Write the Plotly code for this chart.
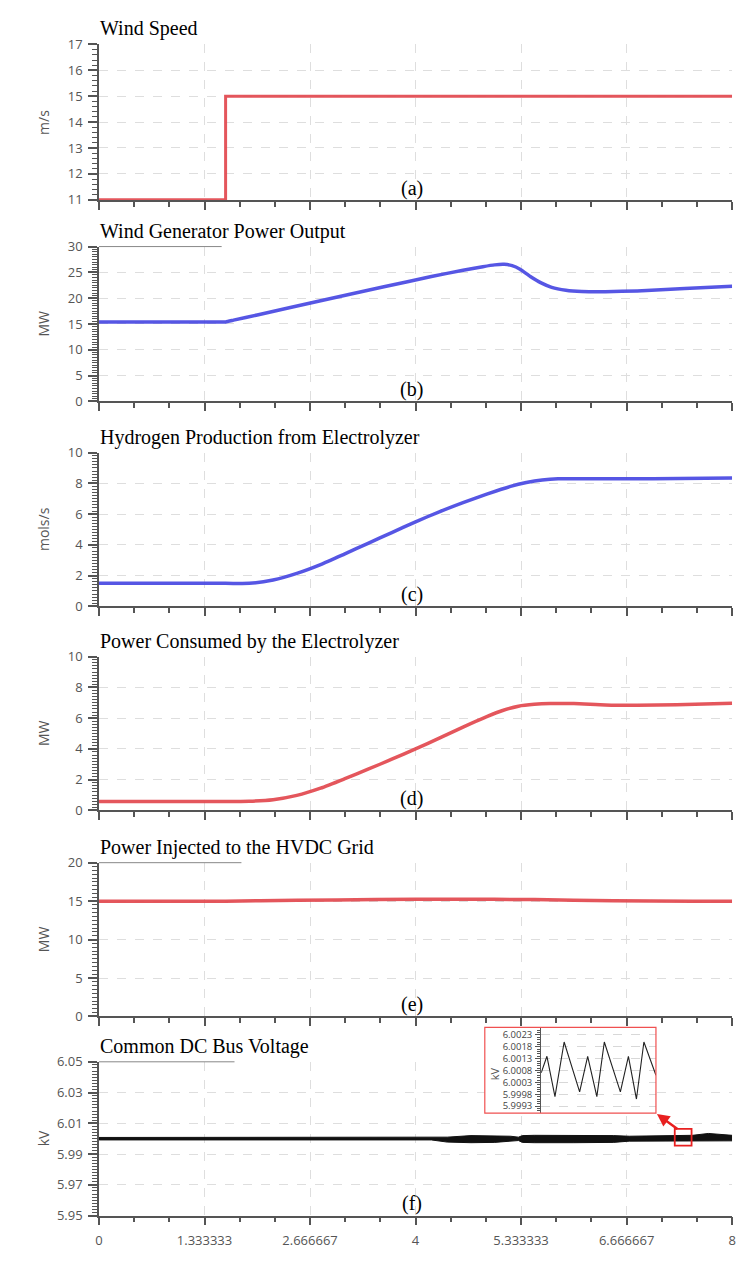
import plotly.graph_objects as go

# ---------------- data ----------------
t_wind = [0, 1.6, 1.6, 8]
wind_speed = [11, 11, 15, 15]

t_gen = [0, 1.2, 1.5, 1.6, 1.7, 2.0, 2.8, 3.6, 4.2, 4.6, 4.85, 5.0, 5.12, 5.22, 5.32, 5.45, 5.58, 5.72,
         5.9, 6.1, 6.4, 6.8, 7.4, 8.0]
gen_power = [15.4, 15.4, 15.4, 15.4, 15.74, 16.75, 19.5, 22.2, 24.2, 25.4, 26.1, 26.45, 26.55, 26.3, 25.6,
             24.2, 23.0, 22.1, 21.55, 21.3, 21.25, 21.4, 21.85, 22.3]

t_h2 = [0, 1.6, 1.9, 2.2, 2.5, 2.8, 3.1, 3.4, 3.7, 4.0, 4.3, 4.6, 4.9, 5.2, 5.4, 5.6, 5.8, 6.2, 7.0, 8.0]
h2_prod = [1.5, 1.5, 1.5, 1.72, 2.15, 2.72, 3.4, 4.1, 4.8, 5.5, 6.15, 6.75, 7.3, 7.8, 8.05, 8.22, 8.3,
           8.3, 8.3, 8.35]

t_elz = [0, 1.6, 1.9, 2.2, 2.5, 2.8, 3.1, 3.4, 3.7, 4.0, 4.3, 4.6, 4.9, 5.1, 5.3, 5.5, 5.7, 6.0, 6.4,
         6.8, 7.3, 8.0]
elz_power = [0.58, 0.58, 0.6, 0.7, 0.98, 1.45, 2.05, 2.68, 3.33, 4.0, 4.7, 5.42, 6.1, 6.5, 6.78, 6.9,
             6.95, 6.95, 6.86, 6.84, 6.88, 6.97]

t_hvdc = [0, 1.6, 2.5, 3.5, 4.5, 5.5, 6.5, 7.5, 8.0]
hvdc_power = [15.0, 15.0, 15.1, 15.2, 15.25, 15.2, 15.05, 15.0, 15.0]

t_dc = [0, 4.2, 4.4, 4.7, 5.0, 5.2, 5.3, 5.35, 5.5, 6.0, 6.5, 6.7, 7.0, 7.5, 7.7, 7.8, 8.0]
dc_upper = [6.0008, 6.0008, 6.0010, 6.0020, 6.0020, 6.0016, 6.0010, 6.0020, 6.0022, 6.0022, 6.0020,
            6.0016, 6.0020, 6.0022, 6.0034, 6.0030, 6.0022]
dc_lower = [5.9992, 5.9992, 5.9978, 5.9974, 5.9976, 5.9982, 5.9988, 5.9976, 5.9974, 5.9974, 5.9976,
            5.9984, 5.9984, 5.9984, 5.9986, 5.9986, 5.9986]

t_zoom = [7.300, 7.310, 7.324, 7.340, 7.367, 7.381, 7.397, 7.410, 7.438, 7.452, 7.466, 7.479, 7.500]
v_zoom = [6.0007, 6.0014, 5.9997, 6.0020, 5.9999, 6.0014, 5.9997, 6.0020, 5.9999, 6.0014, 5.9996, 6.0020, 6.0006]

x_tickvals = [0, 4 / 3, 8 / 3, 4, 16 / 3, 20 / 3, 8]
x_ticktext = ["0", "1.333333", "2.666667", "4", "5.333333", "6.666667", "8"]

titles = ["Wind Speed", "Wind Generator Power Output", "Hydrogen Production from Electrolyzer",
          "Power Consumed by the Electrolyzer", "Power Injected to the HVDC Grid", "Common DC Bus Voltage"]
letters = ["(a)", "(b)", "(c)", "(d)", "(e)", "(f)"]
units = ["m/s", "MW", "mols/s", "MW", "MW", "kV"]
zoom_ticks = [5.9993, 5.9998, 6.0003, 6.0008, 6.0013, 6.0018, 6.0023]

# ---------------- layout helpers ----------------
W, H = 748, 1265
def px(xp):
    return xp / W
def py(yp):
    return 1 - yp / H

X0, X1 = 96, 736
panels = [  # top px, bottom px, range, dtick, minor dtick, tick0
    (36, 194, [10.98, 17], 1, 0.2, 11),
    (241, 398, [0, 30], 5, 0.5, 0),
    (450, 606, [0, 10], 2, 0.2, 0),
    (657, 813, [0, 10], 2, 0.2, 0),
    (866, 1022, [0, 20], 5, 0.5, 0),
    (1068, 1224, [5.95, 6.05], 0.02, 0.002, 5.95),
]

RED = "rgba(226,72,78,0.92)"
BLUE = "rgba(72,72,226,0.92)"
AXC = "#555555"
TICKFONT = dict(family="Open Sans, Noto Sans, sans-serif", size=13, color="#555555")
SERIF = "Liberation Serif, Times New Roman, serif"

fig = go.Figure()

fig.add_trace(go.Scatter(x=t_wind, y=wind_speed, mode="lines", line=dict(color=RED, width=3),
                         xaxis="x", yaxis="y", showlegend=False))
fig.add_trace(go.Scatter(x=t_gen, y=gen_power, mode="lines",
                         line=dict(color=BLUE, width=3.5, shape="spline", smoothing=0.4),
                         xaxis="x2", yaxis="y2", showlegend=False))
fig.add_trace(go.Scatter(x=t_h2, y=h2_prod, mode="lines",
                         line=dict(color=BLUE, width=3.5, shape="spline", smoothing=0.6),
                         xaxis="x3", yaxis="y3", showlegend=False))
fig.add_trace(go.Scatter(x=t_elz, y=elz_power, mode="lines",
                         line=dict(color=RED, width=3.5, shape="spline", smoothing=0.6),
                         xaxis="x4", yaxis="y4", showlegend=False))
fig.add_trace(go.Scatter(x=t_hvdc, y=hvdc_power, mode="lines",
                         line=dict(color=RED, width=3.5, shape="spline", smoothing=0.6),
                         xaxis="x5", yaxis="y5", showlegend=False))
fig.add_trace(go.Scatter(x=t_dc, y=dc_upper, mode="lines", line=dict(color="#111111", width=1),
                         xaxis="x6", yaxis="y6", showlegend=False))
fig.add_trace(go.Scatter(x=t_dc, y=dc_lower, mode="lines", line=dict(color="#111111", width=1),
                         fill="tonexty", fillcolor="#111111",
                         xaxis="x6", yaxis="y6", showlegend=False))
# cover subplot for inset tick labels
fig.add_trace(go.Scatter(x=[None], y=[None], xaxis="x7", yaxis="y7", showlegend=False))
# inset
fig.add_trace(go.Scatter(x=t_zoom, y=v_zoom, mode="lines", line=dict(color="#222222", width=1.1),
                         xaxis="x8", yaxis="y8", showlegend=False))

layout = dict(width=W, height=H, autosize=False, margin=dict(l=0, r=0, t=0, b=0),
              paper_bgcolor="white", plot_bgcolor="white", showlegend=False)

annotations = []
shapes = []
for i, (top, bot, rng, dt, mdt, t0) in enumerate(panels):
    n = "" if i == 0 else str(i + 1)
    last = i == len(panels) - 1
    layout["xaxis" + n] = dict(
        domain=[px(X0), px(X1)], anchor="y" + n, range=[0, 8],
        showline=True, linecolor=AXC, linewidth=1.5,
        ticks="outside", ticklen=8, tickwidth=1.5, tickcolor=AXC,
        tickmode="array", tickvals=x_tickvals, ticktext=x_ticktext,
        showticklabels=last, tickfont=TICKFONT, ticklabelstandoff=4,
        showgrid=True, gridcolor="#dedede", griddash="dash", gridwidth=1,
        zeroline=False,
        minor=dict(tickmode="linear", tick0=0, dtick=4 / 9, ticks="outside", ticklen=5,
                   tickwidth=1.5, tickcolor=AXC, showgrid=False),
    )
    layout["yaxis" + n] = dict(
        domain=[py(bot), py(top)], anchor="x" + n, range=rng,
        showline=True, linecolor=AXC, linewidth=1.5,
        ticks="outside", ticklen=9, tickwidth=1.5, tickcolor=AXC,
        tickmode="linear", tick0=t0, dtick=dt, tickfont=TICKFONT,
        ticklabelstandoff=3,
        showgrid=True, gridcolor="#dedede", griddash="dash", gridwidth=1,
        zeroline=False,
        minor=dict(tickmode="linear", tick0=t0, dtick=mdt, ticks="outside", ticklen=5,
                   tickwidth=1, tickcolor=AXC, showgrid=False),
    )
    if i == 5:
        layout["yaxis" + n]["tickformat"] = ".2f"
    annotations.append(dict(text=titles[i], xref="paper", yref="paper", x=px(96), y=py(top),
                            xanchor="left", yanchor="bottom", yshift=3, showarrow=False, bgcolor="white",
                            borderpad=0, font=dict(family=SERIF, size=20, color="black")))
    annotations.append(dict(text=letters[i], xref="paper", yref="paper", x=px(412), y=py(bot - 12),
                            xanchor="center", yanchor="middle", showarrow=False,
                            font=dict(family=SERIF, size=20, color="black")))
    annotations.append(dict(text=units[i], xref="paper", yref="paper", x=px(40), y=py((top + bot) / 2),
                            xanchor="center", yanchor="middle", showarrow=False, textangle=-90,
                            font=dict(family="Open Sans, Noto Sans, sans-serif", size=14, color="#555555")))

# partial top border lines (as in reference)
for (xe, yp) in [(220, 241), (240, 866), (233, 1068)]:
    shapes.append(dict(type="line", xref="paper", yref="paper", x0=px(96), x1=px(xe), y0=py(yp), y1=py(yp),
                       line=dict(color="#888888", width=1), layer="above"))

# inset geometry
IB_L, IB_R, IB_T, IB_B = 486, 659, 1033, 1120
IA_L = 543
layout["xaxis7"] = dict(domain=[px(IB_L), px(IA_L)], anchor="y7", range=[0, 1], visible=False)
layout["yaxis7"] = dict(domain=[py(IB_B), py(IB_T)], anchor="x7", range=[0, 1], visible=False)
layout["xaxis8"] = dict(domain=[px(IA_L), px(IB_R)], anchor="y8", range=[7.3, 7.5],
                        showline=False, showticklabels=False, ticks="", showgrid=False, zeroline=False)
layout["yaxis8"] = dict(domain=[py(IB_B), py(IB_T)], anchor="x8", range=[5.99901, 6.00262],
                        showline=True, linecolor=AXC, linewidth=1,
                        tickmode="array", tickvals=zoom_ticks, tickformat=".4f",
                        ticks="outside", ticklen=5, tickwidth=1, tickcolor=AXC, ticklabelstandoff=1,
                        tickfont=dict(family="Open Sans, Noto Sans, sans-serif", size=9.5, color="#444444"),
                        showgrid=True, gridcolor="#d8d8d8", griddash="dash", zeroline=False,
                        minor=dict(tickmode="linear", tick0=5.9993, dtick=0.0001, ticks="outside",
                                   ticklen=3, tickwidth=1, tickcolor=AXC, showgrid=False))
annotations.append(dict(text="kV", xref="paper", yref="paper", x=px(496), y=py(1080),
                        xanchor="center", yanchor="middle", showarrow=False, textangle=-90,
                        font=dict(family="Open Sans, Noto Sans, sans-serif", size=11, color="#555555")))
shapes.append(dict(type="rect", xref="paper", yref="paper", x0=px(IB_L), x1=px(IB_R), y0=py(IB_B), y1=py(IB_T),
                   line=dict(color="#f05050", width=1.2), fillcolor="rgba(0,0,0,0)", layer="above"))
# small red box on main trace
shapes.append(dict(type="rect", xref="paper", yref="paper", x0=px(678), x1=px(695), y0=py(1153), y1=py(1136),
                   line=dict(color="#e82020", width=1.8), fillcolor="rgba(0,0,0,0)", layer="above"))
# arrow
annotations.append(dict(text="", xref="paper", yref="paper", x=px(660), y=py(1121), ax=22, ay=16,
                        showarrow=True, arrowhead=2, arrowsize=1, arrowwidth=2.5, arrowcolor="#e82020"))

layout["annotations"] = annotations
layout["shapes"] = shapes
fig.update_layout(**layout)

fig.write_html("out.html")
